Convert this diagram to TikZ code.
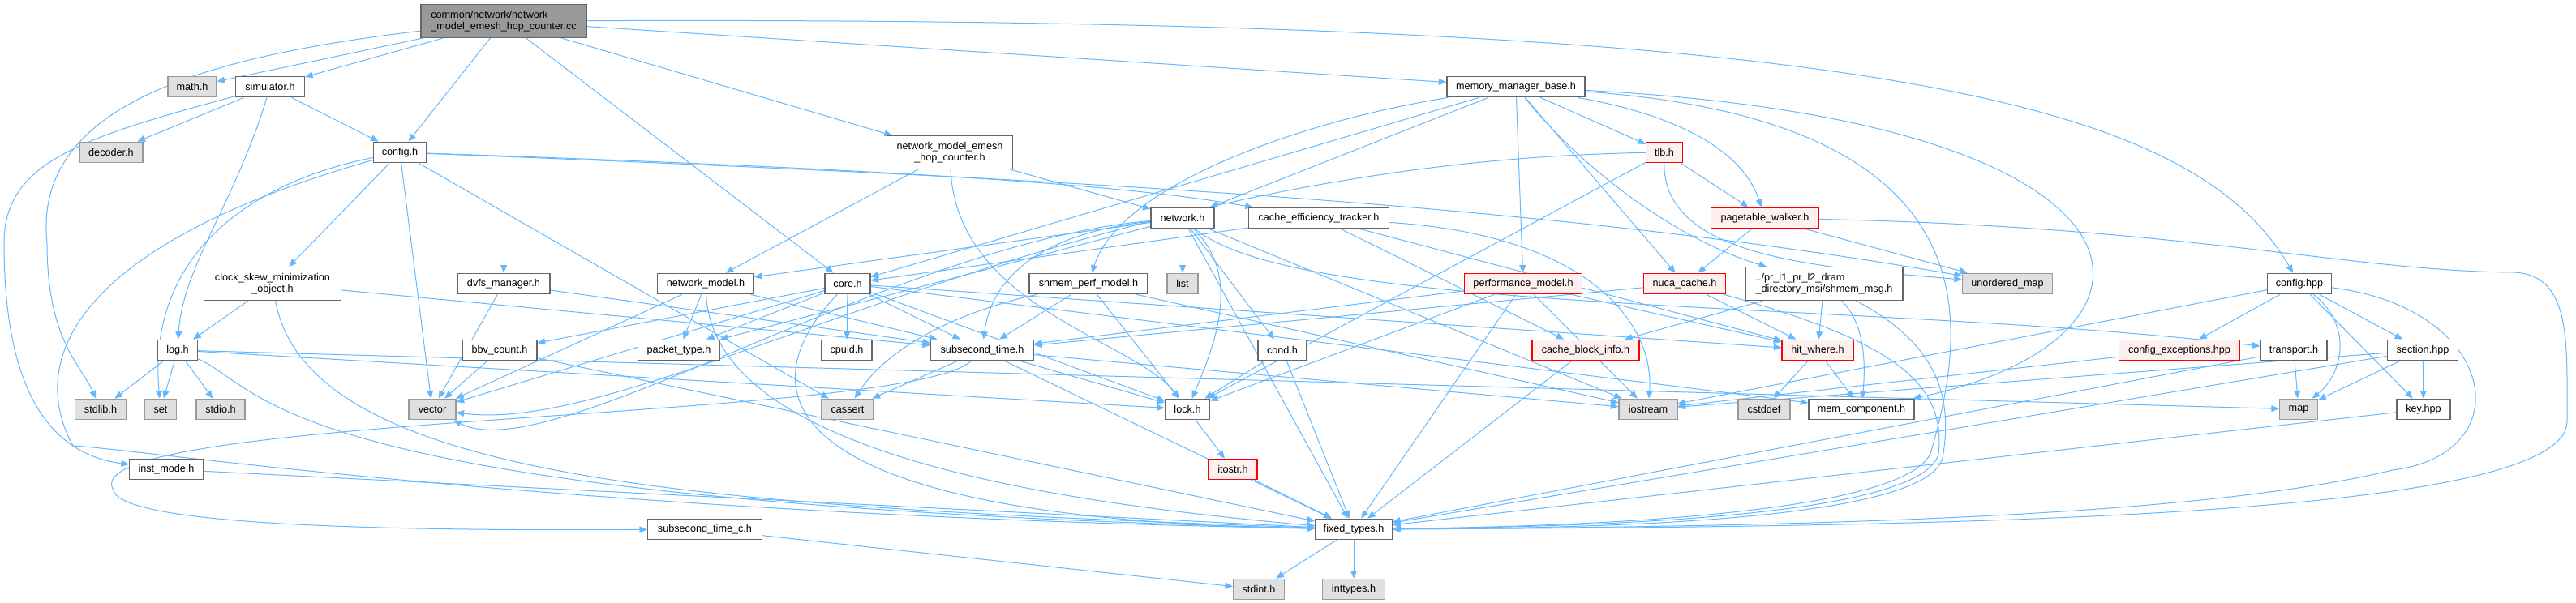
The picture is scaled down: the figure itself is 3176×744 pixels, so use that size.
\documentclass[tikz,border=0pt]{standalone}
\usepackage{fontspec}
\setmainfont{Liberation Sans}
\usepackage{tikz}
\usetikzlibrary{arrows.meta}
\definecolor{IncBlue}{HTML}{63B8FF}
\definecolor{HdrLine}{HTML}{666666}
\definecolor{SysLine}{HTML}{999999}
\definecolor{SysFill}{HTML}{E0E0E0}
\definecolor{TruncLine}{HTML}{FF0000}
\definecolor{TruncFill}{HTML}{FFF0F0}
\definecolor{RootFill}{HTML}{999999}
\pgfdeclarelayer{wires}
\pgfsetlayers{wires,main}

\begin{document}
\begin{tikzpicture}[x=0.25mm,y=-0.25mm,
    font=\fontsize{9}{10}\selectfont,
    hdr/.style={draw=HdrLine,fill=white,line width=0.28mm,minimum height=6.4mm,inner xsep=1mm,inner ysep=0.4mm},
    sysbox/.style={hdr,draw=SysLine,fill=SysFill},
    trunc/.style={hdr,draw=TruncLine,fill=TruncFill},
    rootbox/.style={hdr,fill=RootFill},
    twoline/.style={minimum height=10.2mm,align=center},
    wd/.style={minimum width=#1*0.25mm},
    inc/.style={-{Triangle[length=2.4mm,width=2mm]},draw=IncBlue,line width=0.25mm}
  ]
    \useasboundingbox (0,0) rectangle (3176,744);

    \node[rootbox,twoline,align=left,wd=204] (root) at (621,26) {common/network/network\\\_model\_emesh\_hop\_counter.cc};

    \node[sysbox,wd=60] (mathh) at (237,107) {math.h};
    \node[hdr,wd=85] (simh) at (333,107) {simulator.h};
    \node[hdr,wd=170] (mmbh) at (1869,107) {memory\_manager\_base.h};

    \node[sysbox,wd=78] (decoderh) at (137,188) {decoder.h};
    \node[hdr,wd=65] (configh) at (493,188) {config.h};
    \node[hdr,twoline,wd=155] (hopch) at (1171,188) {network\_model\_emesh\\\_hop\_counter.h};
    \node[trunc,wd=45] (tlbh) at (2052,188) {tlb.h};

    \node[hdr,wd=78] (networkh) at (1458,269) {network.h};
    \node[hdr,wd=173] (cacheeffh) at (1626,269) {cache\_efficiency\_tracker.h};
    \node[trunc,wd=133] (ptwh) at (2176,269) {pagetable\_walker.h};

    \node[hdr,twoline,wd=169] (skewh) at (336,350) {clock\_skew\_minimization\\\_object.h};
    \node[hdr,wd=114] (dvfsh) at (621,350) {dvfs\_manager.h};
    \node[hdr,wd=119] (netmodelh) at (870,350) {network\_model.h};
    \node[hdr,wd=56] (coreh) at (1045,350) {core.h};
    \node[hdr,wd=146] (shmemperfh) at (1342,350) {shmem\_perf\_model.h};
    \node[sysbox,wd=38] (listh) at (1458,350) {list};
    \node[trunc,wd=145] (perfh) at (1878,350) {performance\_model.h};
    \node[trunc,wd=101] (nucah) at (2077,350) {nuca\_cache.h};
    \node[hdr,twoline,align=left,wd=194] (shmemmsgh) at (2249,350) {../pr\_l1\_pr\_l2\_dram\\\_directory\_msi/shmem\_msg.h};
    \node[sysbox,wd=111] (umaph) at (2475,350) {unordered\_map};
    \node[hdr,wd=79] (confighpp) at (2835,350) {config.hpp};

    \node[hdr,wd=49] (logh) at (219,432) {log.h};
    \node[hdr,wd=92] (bbvh) at (616,432) {bbv\_count.h};
    \node[hdr,wd=101] (packeth) at (837,432) {packet\_type.h};
    \node[hdr,wd=62] (cpuidh) at (1044,432) {cpuid.h};
    \node[hdr,wd=127] (subsech) at (1211,432) {subsecond\_time.h};
    \node[hdr,wd=60] (condh) at (1581,432) {cond.h};
    \node[trunc,wd=132] (cbih) at (1955,432) {cache\_block\_info.h};
    \node[trunc,wd=88] (hitwh) at (2241,432) {hit\_where.h};
    \node[trunc,wd=149] (cfgexch) at (2687,432) {config\_exceptions.hpp};
    \node[hdr,wd=82] (transporth) at (2828,432) {transport.h};
    \node[hdr,wd=87] (sectionh) at (2987,432) {section.hpp};

    \node[sysbox,wd=63] (stdlibh) at (124,505) {stdlib.h};
    \node[sysbox,wd=39] (seth) at (198,505) {set};
    \node[sysbox,wd=60] (stdioh) at (272,505) {stdio.h};
    \node[sysbox,wd=58] (vectorh) at (533,505) {vector};
    \node[sysbox,wd=64] (cassert) at (1045,505) {cassert};
    \node[hdr,wd=55] (lockh) at (1464,505) {lock.h};
    \node[sysbox,wd=72] (iostreamh) at (2032,505) {iostream};
    \node[sysbox,wd=64] (cstddefh) at (2175,505) {cstddef};
    \node[hdr,wd=130] (memcomph) at (2295,505) {mem\_component.h};
    \node[sysbox,wd=47] (maph) at (2834,505) {map};
    \node[hdr,wd=66] (keyh) at (2988,505) {key.hpp};

    \node[hdr,wd=91] (instmodeh) at (205,579) {inst\_mode.h};
    \node[trunc,wd=60] (itostrh) at (1520,579) {itostr.h};

    \node[hdr,wd=141] (subsecch) at (869,653) {subsecond\_time\_c.h};
    \node[hdr,wd=95] (fixedh) at (1669,653) {fixed\_types.h};

    \node[sysbox,wd=63] (stdinth) at (1552,727) {stdint.h};
    \node[sysbox,wd=77] (inttypesh) at (1669,727) {inttypes.h};

    \begin{pgfonlayer}{wires}
    \draw[inc] (root) -- (mathh);
    \draw[inc] (root) -- (simh);
    \draw[inc] (root) -- (configh);
    \draw[inc] (root) -- (coreh);
    \draw[inc] (root) -- (dvfsh);
    \draw[inc] (root) -- (hopch);
    \draw[inc] (root) -- (mmbh);
    \draw[inc] (root) .. controls (2300,20) and (2700,120) .. (confighpp);
    \draw[inc] (root) .. controls (250,70) and (40,130) .. (58,300) .. controls (58,420) and (100,450) .. (stdlibh);

    \draw[inc] (simh) -- (decoderh);
    \draw[inc] (simh) -- (configh);
    \draw[inc] (simh) .. controls (290,250) and (225,330) .. (logh);
    \draw[inc] (simh) .. controls (100,170) and (5,200) .. (5,300) .. controls (5,480) and (60,560) .. (instmodeh);

    \draw[inc] (configh) -- (skewh);
    \draw[inc] (configh) -- (vectorh);
    \draw[inc] (configh) -- (cassert);
    \draw[inc] (configh) .. controls (330,220) and (180,300) .. (seth);
    \draw[inc] (configh) .. controls (1300,215) and (1450,240) .. (cacheeffh);
    \draw[inc] (configh) .. controls (1300,220) and (1900,250) .. (umaph);
    \draw[inc] (configh) .. controls (100,300) and (30,440) .. (90,550) .. controls (180,555) and (700,635) .. (fixedh);

    \draw[inc] (skewh) -- (logh);
    \draw[inc] (skewh) -- (subsech);
    \draw[inc] (skewh) .. controls (380,600) and (900,625) .. (fixedh);

    \draw[inc] (dvfsh) -- (vectorh);
    \draw[inc] (dvfsh) -- (subsech);

    \draw[inc] (logh) -- (stdlibh);
    \draw[inc] (logh) -- (seth);
    \draw[inc] (logh) -- (stdioh);
    \draw[inc] (logh) -- (lockh);
    \draw[inc] (logh) -- (maph);
    \draw[inc] (logh) .. controls (330,480) and (330,620) .. (fixedh);

    \draw[inc] (bbvh) -- (vectorh);
    \draw[inc] (bbvh) -- (fixedh);
    \draw[inc] (instmodeh) -- (fixedh);

    \draw[inc] (hopch) -- (netmodelh);
    \draw[inc] (hopch) -- (networkh);
    \draw[inc] (hopch) .. controls (1180,380) and (1400,420) .. (lockh);

    \draw[inc] (networkh) -- (netmodelh);
    \draw[inc] (networkh) -- (packeth);
    \draw[inc] (networkh) -- (listh);
    \draw[inc] (networkh) -- (condh);
    \draw[inc] (networkh) -- (fixedh);
    \draw[inc] (networkh) -- (iostreamh);
    \draw[inc] (networkh) .. controls (1260,290) and (1220,360) .. (subsech);
    \draw[inc] (networkh) .. controls (1530,340) and (1500,420) .. (lockh);
    \draw[inc] (networkh) .. controls (1100,300) and (680,580) .. (vectorh);
    \draw[inc] (networkh) .. controls (1600,390) and (2300,370) .. (transporth);

    \draw[inc] (cacheeffh) -- (coreh);
    \draw[inc] (cacheeffh) -- (cbih);
    \draw[inc] (cacheeffh) -- (hitwh);
    \draw[inc] (cacheeffh) .. controls (1960,290) and (2040,400) .. (iostreamh);

    \draw[inc] (netmodelh) -- (packeth);
    \draw[inc] (netmodelh) -- (subsech);
    \draw[inc] (netmodelh) -- (vectorh);
    \draw[inc] (netmodelh) .. controls (880,560) and (1300,620) .. (fixedh);

    \draw[inc] (coreh) -- (packeth);
    \draw[inc] (coreh) -- (cpuidh);
    \draw[inc] (coreh) -- (subsech);
    \draw[inc] (coreh) -- (lockh);
    \draw[inc] (coreh) -- (bbvh);
    \draw[inc] (coreh) -- (vectorh);
    \draw[inc] (coreh) -- (memcomph);
    \draw[inc] (coreh) -- (hitwh);
    \draw[inc] (coreh) .. controls (920,480) and (940,640) .. (fixedh);

    \draw[inc] (shmemperfh) -- (subsech);
    \draw[inc] (shmemperfh) -- (lockh);
    \draw[inc] (shmemperfh) -- (iostreamh);
    \draw[inc] (shmemperfh) .. controls (1200,380) and (1100,420) .. (cassert);

    \draw[inc] (mmbh) -- (coreh);
    \draw[inc] (mmbh) -- (networkh);
    \draw[inc] (mmbh) -- (perfh);
    \draw[inc] (mmbh) -- (tlbh);
    \draw[inc] (mmbh) -- (nucah);
    \draw[inc] (mmbh) .. controls (1600,150) and (1380,230) .. (shmemperfh);
    \draw[inc] (mmbh) .. controls (2000,130) and (2140,160) .. (ptwh);
    \draw[inc] (mmbh) .. controls (1960,220) and (2080,300) .. (shmemmsgh);
    \draw[inc] (mmbh) .. controls (2700,150) and (2700,420) .. (memcomph);
    \draw[inc] (mmbh) .. controls (2480,150) and (2420,420) .. (2380,560) .. controls (2340,640) and (1900,650) .. (fixedh);

    \draw[inc] (tlbh) -- (ptwh);
    \draw[inc] (tlbh) -- (lockh);
    \draw[inc] (tlbh) .. controls (2050,320) and (2250,330) .. (umaph);
    \draw[inc] (tlbh) .. controls (1300,200) and (800,540) .. (vectorh);

    \draw[inc] (ptwh) -- (nucah);
    \draw[inc] (ptwh) -- (umaph);
    \draw[inc] (ptwh) .. controls (2700,280) and (2900,335) .. (3100,336) .. controls (3170,340) and (3165,420) .. (3165,520) .. controls (3165,640) and (2400,650) .. (fixedh);

    \draw[inc] (perfh) -- (subsech);
    \draw[inc] (perfh) -- (lockh);
    \draw[inc] (perfh) -- (fixedh);
    \draw[inc] (perfh) -- (iostreamh);
    \draw[inc] (perfh) -- (hitwh);

    \draw[inc] (nucah) -- (hitwh);
    \draw[inc] (nucah) -- (subsech);
    \draw[inc] (nucah) .. controls (2330,420) and (2400,470) .. (2390,560) .. controls (2370,640) and (1950,650) .. (fixedh);

    \draw[inc] (shmemmsgh) -- (hitwh);
    \draw[inc] (shmemmsgh) -- (cbih);
    \draw[inc] (shmemmsgh) .. controls (2300,400) and (2300,450) .. (memcomph);
    \draw[inc] (shmemmsgh) .. controls (2380,420) and (2410,480) .. (2395,565) .. controls (2375,645) and (1950,652) .. (fixedh);

    \draw[inc] (cbih) -- (fixedh);
    \draw[inc] (hitwh) -- (cstddefh);
    \draw[inc] (hitwh) -- (memcomph);
    \draw[inc] (lockh) -- (itostrh);
    \draw[inc] (itostrh) -- (fixedh);
    \draw[inc] (condh) -- (lockh);
    \draw[inc] (condh) -- (fixedh);

    \draw[inc] (subsech) -- (cassert);
    \draw[inc] (subsech) -- (lockh);
    \draw[inc] (subsech) -- (fixedh);
    \draw[inc] (subsech) -- (iostreamh);
    \draw[inc] (subsech) .. controls (1120,520) and (80,510) .. (140,605) .. controls (150,650) and (500,655) .. (subsecch);

    \draw[inc] (subsecch) -- (stdinth);
    \draw[inc] (fixedh) -- (stdinth);
    \draw[inc] (fixedh) -- (inttypesh);

    \draw[inc] (transporth) -- (maph);
    \draw[inc] (transporth) -- (fixedh);
    \draw[inc] (sectionh) -- (keyh);
    \draw[inc] (sectionh) -- (maph);
    \draw[inc] (sectionh) -- (fixedh);
    \draw[inc] (sectionh) -- (iostreamh);
    \draw[inc] (keyh) -- (fixedh);

    \draw[inc] (confighpp) -- (cfgexch);
    \draw[inc] (confighpp) -- (sectionh);
    \draw[inc] (confighpp) -- (keyh);
    \draw[inc] (confighpp) -- (iostreamh);
    \draw[inc] (confighpp) .. controls (2900,400) and (2890,460) .. (maph);
    \draw[inc] (confighpp) .. controls (3080,380) and (3110,560) .. (2950,580) .. controls (2700,640) and (2200,650) .. (fixedh);
    \draw[inc] (cfgexch) -- (iostreamh);
    \end{pgfonlayer}
  \end{tikzpicture}
\end{document}
